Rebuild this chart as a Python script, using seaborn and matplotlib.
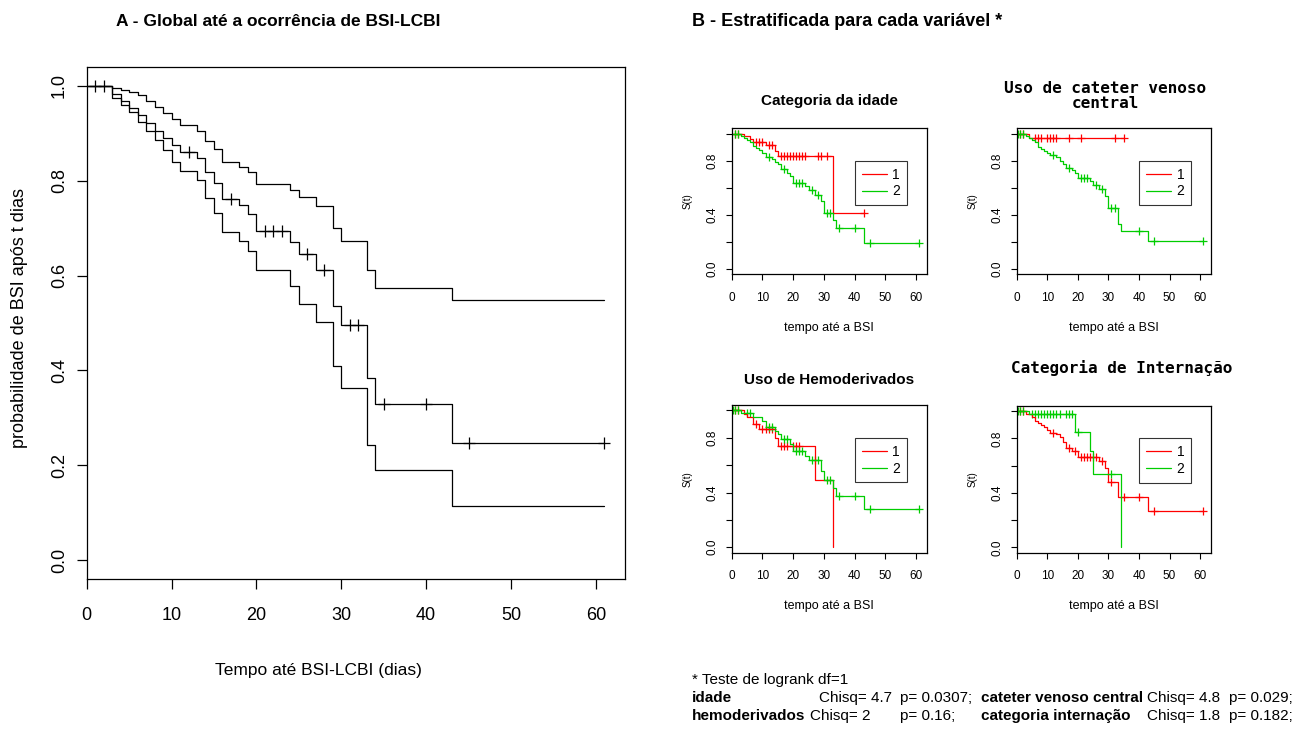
import numpy as np
import pandas as pd
import matplotlib
matplotlib.use("Agg")
import matplotlib.pyplot as plt
import seaborn as sns
from matplotlib.lines import Line2D

# ---------------- data: panel A (global KM + confidence band)
ev_all = [3, 4, 5, 6, 7, 8, 9, 10, 11, 13, 14, 15, 16, 18, 19, 20, 24, 25, 27, 29, 30, 33, 34, 43]
s_mid = [0.984, 0.969, 0.953, 0.938, 0.922, 0.906, 0.891, 0.875, 0.860, 0.849, 0.818, 0.795,
         0.761, 0.749, 0.729, 0.694, 0.670, 0.645, 0.611, 0.535, 0.495, 0.384, 0.329, 0.247]
s_low = [0.975, 0.960, 0.945, 0.925, 0.905, 0.885, 0.865, 0.840, 0.820, 0.802, 0.763, 0.733,
         0.691, 0.673, 0.652, 0.611, 0.578, 0.541, 0.502, 0.409, 0.363, 0.242, 0.189, 0.113]
s_up = [0.996, 0.992, 0.987, 0.981, 0.968, 0.955, 0.943, 0.930, 0.917, 0.906, 0.884, 0.868,
        0.840, 0.830, 0.819, 0.793, 0.780, 0.765, 0.747, 0.701, 0.674, 0.612, 0.574, 0.548]
cens_all = [1, 2, 12, 17, 21, 22, 23, 26, 28, 31, 32, 35, 40, 45, 61]

# ---------------- data: panel B (stratified, group 1 red / group 2 green)
# Categoria da idade
idade1_t = [4, 6, 7, 11, 14, 15, 33]
idade1_s = [0.98, 0.96, 0.94, 0.917, 0.875, 0.834, 0.417]
idade1_c = [1, 2, 8, 9, 10, 12, 13, 16, 17, 18, 19, 20, 21, 22, 23, 24, 28, 29, 31, 43]
idade2_t = [3, 4, 5, 6, 7, 8, 9, 10, 11, 13, 14, 15, 16, 18, 19, 20, 24, 25, 27, 29, 30, 33, 34, 43]
idade2_s = [0.985, 0.97, 0.955, 0.94, 0.91, 0.895, 0.88, 0.86, 0.83, 0.815, 0.79, 0.775,
            0.74, 0.71, 0.69, 0.635, 0.61, 0.58, 0.545, 0.50, 0.415, 0.36, 0.30, 0.195]
idade2_c = [1, 2, 12, 17, 21, 22, 23, 26, 28, 31, 32, 35, 40, 45, 61]

# Uso de cateter venoso central
cvc1_t = [4]
cvc1_s = [0.97]
cvc1_c = [1, 2, 6, 7, 8, 10, 11, 12, 13, 17, 21, 32, 35]
cvc2_t = [3, 4, 5, 6, 7, 8, 9, 10, 11, 13, 14, 15, 16, 18, 19, 20, 24, 25, 27, 29, 30, 33, 34, 43]
cvc2_s = [0.985, 0.97, 0.955, 0.94, 0.905, 0.89, 0.875, 0.86, 0.845, 0.83, 0.80, 0.775,
          0.745, 0.73, 0.71, 0.672, 0.65, 0.62, 0.59, 0.54, 0.45, 0.33, 0.277, 0.21]
cvc2_c = [0.5, 1, 2, 12, 17, 21, 22, 23, 26, 28, 31, 32, 40, 45, 61]

# Uso de Hemoderivados
hemo1_t = [4, 5, 7, 9, 14, 15, 27, 33]
hemo1_s = [0.975, 0.95, 0.90, 0.865, 0.80, 0.74, 0.49, 0.0]
hemo1_c = [1, 2, 8, 10, 11, 12, 13, 16, 17, 18, 20, 21, 22]
hemo2_t = [3, 7, 10, 11, 14, 15, 16, 19, 20, 24, 25, 29, 30, 33, 34, 43]
hemo2_s = [0.98, 0.95, 0.92, 0.877, 0.85, 0.826, 0.79, 0.755, 0.705, 0.664, 0.64, 0.56,
           0.49, 0.436, 0.375, 0.277]
hemo2_c = [0.5, 1, 2, 5, 6, 12, 13, 17, 18, 21, 22, 23, 26, 27, 28, 31, 32, 35, 40, 45, 61]

# Categoria de Internacao
int1_t = [3, 5, 6, 7, 8, 9, 10, 11, 13, 14, 15, 16, 18, 20, 27, 29, 30, 33, 43]
int1_s = [0.98, 0.955, 0.93, 0.91, 0.895, 0.88, 0.86, 0.84, 0.83, 0.81, 0.77, 0.73,
          0.705, 0.665, 0.635, 0.58, 0.48, 0.37, 0.27]
int1_c = [1, 2, 12, 17, 19, 21, 22, 23, 24, 25, 26, 28, 31, 35, 40, 45, 61]
int2_t = [4, 19, 24, 25, 34]
int2_s = [0.98, 0.85, 0.71, 0.535, 0.0]
int2_c = [0.5, 1, 2, 5, 6, 7, 8, 9, 10, 11, 12, 13, 14, 16, 17, 18, 20, 31]

# logrank footnote
lr_names = ["idade", "cateter venoso central", "hemoderivados", "categoria internação"]
lr_chisq = ["4.7", "4.8", "2", "1.8"]
lr_p = ["0.0307", "0.029", "0.16", "0.182"]

RED = "#FF0000"
GREEN = "#00CD00"

sns.set_style("ticks")
plt.rcParams['font.family'] = ['Liberation Sans', 'DejaVu Sans']
plt.rcParams['axes.edgecolor'] = 'black'
plt.rcParams['axes.linewidth'] = 0.9
plt.rcParams['xtick.color'] = 'black'
plt.rcParams['ytick.color'] = 'black'
plt.rcParams['text.color'] = 'black'
plt.rcParams['axes.labelcolor'] = 'black'

W, H = 1310, 733


def rect(l, t, r, b):
    return [l / W, 1 - b / H, (r - l) / W, (b - t) / H]


def km_frame(times, surv, end):
    t = [0] + list(times) + [end]
    s = [1.0] + list(surv) + [surv[-1]]
    return pd.DataFrame({"t": t, "s": s})


def surv_at(times, surv, pts):
    idx = np.searchsorted(times, pts, side="right")
    full = np.r_[1.0, surv]
    return full[idx]


def draw_curve(ax, times, surv, cens, color, end=None, lw=0.9, ms=30):
    if end is None:
        end = max(max(cens), times[-1])
    df = km_frame(times, surv, end)
    sns.lineplot(data=df, x="t", y="s", ax=ax, color=color, lw=lw,
                 drawstyle="steps-post", estimator=None, sort=False)
    if len(cens):
        sns.scatterplot(x=cens, y=surv_at(times, surv, cens), ax=ax, marker="+",
                        color=color, s=ms, linewidth=lw)


fig = plt.figure(figsize=(W / 100, H / 100), dpi=100)

# ---------------- panel A
axA = fig.add_axes(rect(86.7, 67, 625, 579))
draw_curve(axA, ev_all, s_up, [], "black", end=max(cens_all))
draw_curve(axA, ev_all, s_low, [], "black", end=max(cens_all))
draw_curve(axA, ev_all, s_mid, cens_all, "black", ms=80)
axA.set_xlim(0, 63.44)
axA.set_ylim(-0.04, 1.04)
axA.set_xticks(range(0, 61, 10))
axA.set_yticks([0, 0.2, 0.4, 0.6, 0.8, 1.0])
axA.set_yticklabels(["0.0", "0.2", "0.4", "0.6", "0.8", "1.0"], rotation=90, va="center")
axA.tick_params(labelsize=13, length=7.5, width=0.9)
axA.tick_params(axis="x", pad=13)
axA.tick_params(axis="y", pad=6)
axA.set_xlabel("")
axA.set_ylabel("")

fig.text(278 / W, 1 - 22 / H, "A - Global até a ocorrência de BSI-LCBI", ha="center", va="center",
         fontsize=12.5, fontweight="bold")
fig.text(692 / W, 1 - 22 / H, "B - Estratificada para cada variável *", ha="left", va="center",
         fontsize=13, fontweight="bold")
fig.text(318 / W, 1 - 670 / H, "Tempo até BSI-LCBI (dias)", ha="center", va="center", fontsize=12.5)
fig.text(20 / W, 1 - 318 / H, "probabilidade de BSI após t dias", ha="center", va="center",
         rotation=90, fontsize=13)

# ---------------- panel B
panels = [
    (rect(731.7, 128.3, 926.7, 274.3), idade1_t, idade1_s, idade1_c, idade2_t, idade2_s, idade2_c,
     "Categoria da idade", False, 829, 101),
    (rect(1016.7, 128.3, 1210.7, 274.3), cvc1_t, cvc1_s, cvc1_c, cvc2_t, cvc2_s, cvc2_c,
     "Uso de cateter venoso\ncentral", True, 1105, 96),
    (rect(731.7, 405, 926.7, 552.7), hemo1_t, hemo1_s, hemo1_c, hemo2_t, hemo2_s, hemo2_c,
     "Uso de Hemoderivados", False, 829, 380),
    (rect(1016.7, 405.7, 1210.7, 552.7), int1_t, int1_s, int1_c, int2_t, int2_s, int2_c,
     "Categoria de Internação", True, 1122, 368),
]

for pos, t1, s1, c1, t2, s2, c2, title, mono, tx, ty in panels:
    ax = fig.add_axes(pos)
    draw_curve(ax, t1, s1, c1, RED, lw=0.9, ms=28)
    draw_curve(ax, t2, s2, c2, GREEN, lw=0.9, ms=28)
    ax.set_xlim(0, 63.44)
    ax.set_ylim(-0.04, 1.04)
    ax.set_xticks(range(0, 61, 10))
    ax.set_yticks([0, 0.2, 0.4, 0.6, 0.8, 1.0])
    ax.set_yticklabels(["0.0", "", "0.4", "", "0.8", ""], rotation=90, va="center")
    ax.tick_params(labelsize=8.5, length=4.5, width=0.8)
    ax.tick_params(axis="x", pad=8)
    ax.tick_params(axis="y", pad=5)
    ax.set_xlabel("tempo até a BSI", fontsize=9, labelpad=13)
    ax.set_ylabel("S(t)", fontsize=7, labelpad=10)
    handles = [Line2D([], [], color=RED, lw=0.9), Line2D([], [], color=GREEN, lw=0.9)]
    leg = ax.legend(handles, ["1", "2"], loc="upper left", bbox_to_anchor=(40, 0.8),
                    bbox_transform=ax.transData, fontsize=10, frameon=True, fancybox=False,
                    handlelength=1.8, handletextpad=0.4, borderpad=0.5, labelspacing=0.2,
                    borderaxespad=0)
    leg.get_frame().set_edgecolor("black")
    leg.get_frame().set_linewidth(0.8)
    if mono:
        fig.text(tx / W, 1 - ty / H, title, ha="center", va="center", fontsize=11.5,
                 fontweight="bold", family="DejaVu Sans Mono", linespacing=0.95)
    else:
        fig.text(tx / W, 1 - ty / H, title, ha="center", va="center", fontsize=11, fontweight="bold")

# ---------------- footer with logrank tests (pieces laid out one after another)
fs = 11
rend = fig.canvas.get_renderer()
sp = 0.278 * fs * 100 / 72


def put(x, y, s, bold=False, ha="left"):
    t = fig.text(x / W, 1 - y / H, s, fontsize=fs, va="center", ha=ha,
                 fontweight="bold" if bold else "normal")
    bb = t.get_window_extent(rend)
    return bb.x0, bb.x1


put(692, 680, "* Teste de logrank df=1")
y2, y3 = 698, 716
put(692, y2, lr_names[0], True)
_, e = put(819, y2, "Chisq= " + lr_chisq[0])
p_col = e + 2 * sp
_, e = put(p_col, y2, "p= " + lr_p[0] + ";")
b_col = e + 2 * sp
_, e = put(b_col, y2, lr_names[1], True)
_, e = put(e + sp, y2, "Chisq= " + lr_chisq[1])
_, end2 = put(e + 2 * sp, y2, "p= " + lr_p[1] + ";")

_, e = put(692, y3, lr_names[2], True)
put(e + sp, y3, "Chisq= " + lr_chisq[2])
put(p_col, y3, "p= " + lr_p[2] + ";")
put(b_col, y3, lr_names[3], True)
s0, _ = put(end2, y3, "p= " + lr_p[3] + ";", ha="right")
put(s0 - 2 * sp, y3, "Chisq= " + lr_chisq[3], ha="right")

plt.savefig("out.png", dpi=100)
plt.close()
